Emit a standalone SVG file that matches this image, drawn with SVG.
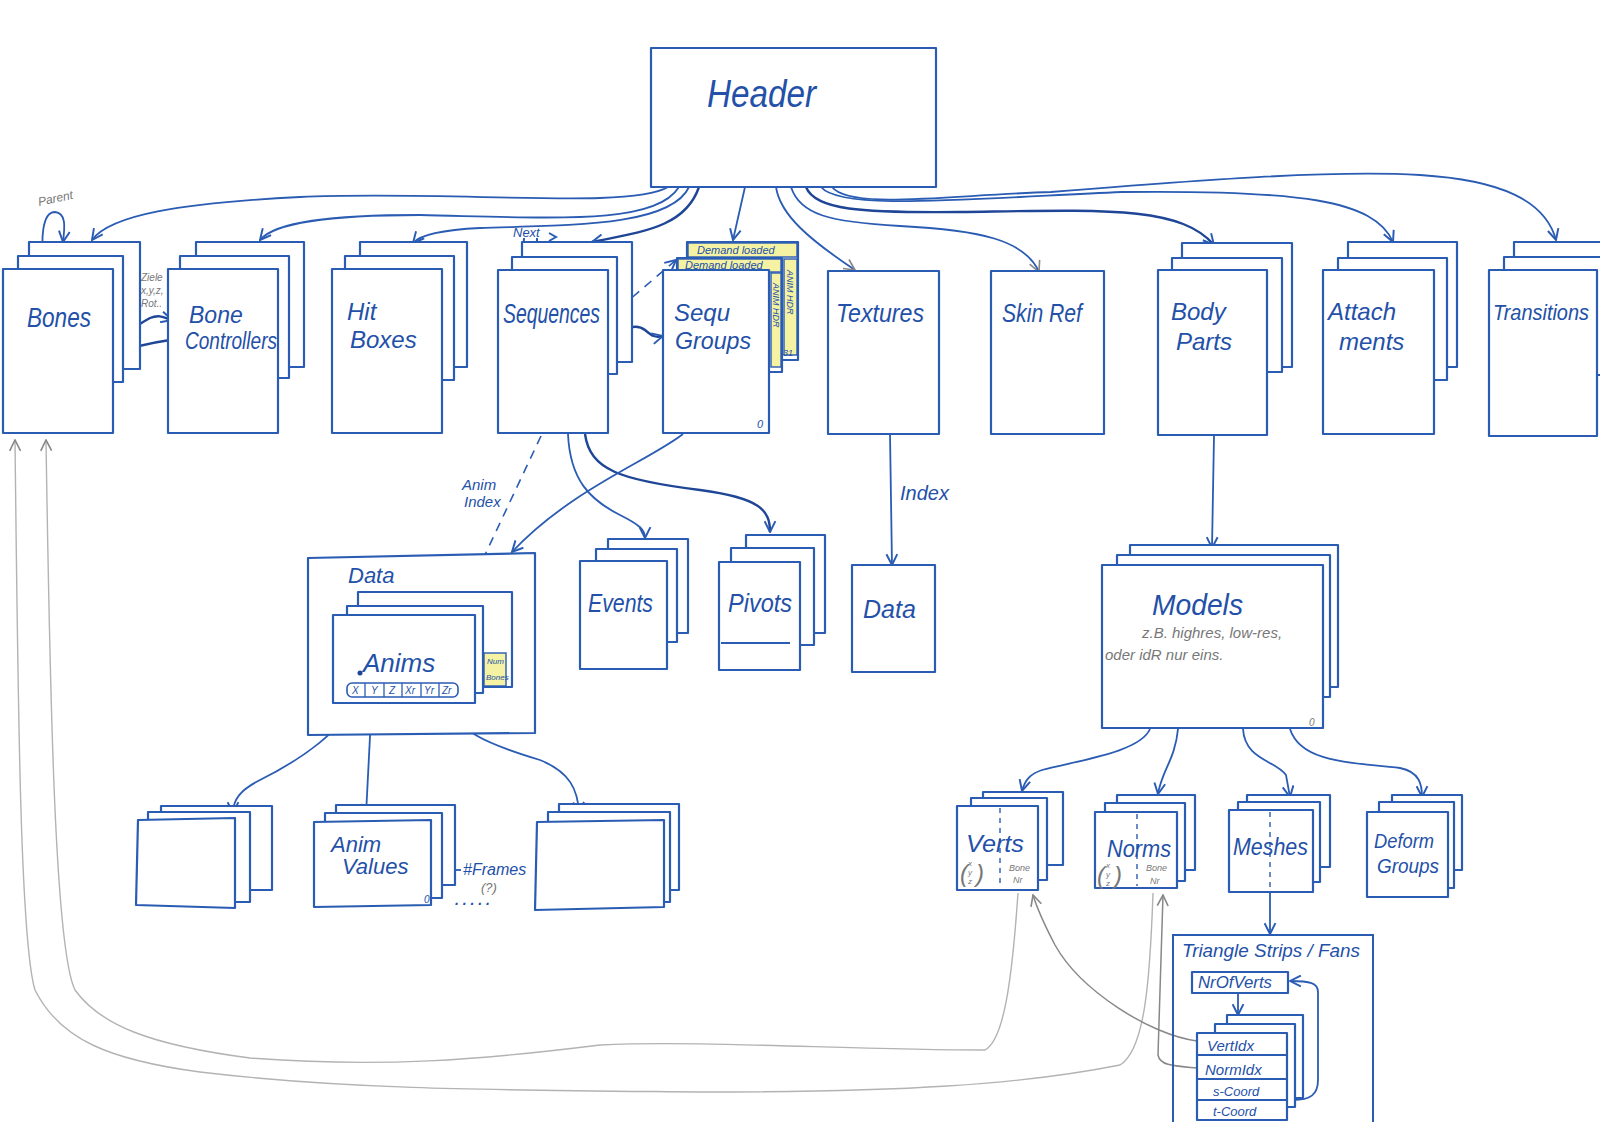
<svg xmlns="http://www.w3.org/2000/svg" width="1600" height="1122" viewBox="0 0 1600 1122">
<defs>
<style>
.b{fill:#fff;stroke:#2a5cb3;stroke-width:2.2;stroke-linejoin:round}
.n{fill:none;stroke:#2a5cb3;stroke-width:2}
.c{fill:none;stroke:#2a5cb3;stroke-width:1.8;marker-end:url(#ah)}
.cd{fill:none;stroke:#1e4596;stroke-width:2.4;marker-end:url(#ah)}
.cg{fill:none;stroke:#b3b3b3;stroke-width:1.4;marker-end:url(#ahg)}
.cgd{fill:none;stroke:#888;stroke-width:1.5;marker-end:url(#ahg)}
.dash{fill:none;stroke:#2a5cb3;stroke-width:1.6;stroke-dasharray:9 7;marker-end:url(#ah)}
.t{font-family:"Liberation Sans","DejaVu Sans",sans-serif;font-style:italic;fill:#2350a8}
.tg{font-family:"Liberation Sans","DejaVu Sans",sans-serif;font-style:italic;fill:#777}
.y{fill:#f5f2a4;stroke:#2a5cb3;stroke-width:1.4}
</style>
<marker id="ah" viewBox="0 0 12 12" refX="11" refY="6" markerWidth="13" markerHeight="13" orient="auto" markerUnits="userSpaceOnUse"><path d="M1,1 L11,6 L1,11" fill="none" stroke="#2a5cb3" stroke-width="1.8"/></marker>
<marker id="ahg" viewBox="0 0 12 12" refX="11" refY="6" markerWidth="13" markerHeight="13" orient="auto" markerUnits="userSpaceOnUse"><path d="M1,1 L11,6 L1,11" fill="none" stroke="#888" stroke-width="1.5"/></marker>
</defs>
<rect x="0" y="0" width="1600" height="1122" fill="#fff"/>

<g id="connectors">
<path class="c" d="M668,187 C630,210 450,190 300,197 C180,203 110,215 92,240"/>
<path class="c" d="M679,187 C655,225 560,218 420,215 C330,215 275,222 260,240"/>
<path class="c" d="M689,187 C670,228 560,225 480,228 C440,230 420,235 413,243"/>
<path class="cd" d="M699,187 C685,228 640,232 592,242"/>
<path class="c" d="M745,187 L733,240"/>
<path class="c" style="marker-end:url(#ahg)" d="M776,187 C780,215 810,240 855,270"/>
<path class="c" style="marker-end:url(#ahg)" d="M791,187 C800,215 830,222 900,226 C980,230 1025,240 1039,272"/>
<path class="cd" d="M806,187 C815,210 860,213 960,212 C1100,210 1180,205 1214,245"/>
<path class="c" d="M821,187 C840,210 950,200 1122,192 C1300,190 1375,200 1393,242"/>
<path class="c" d="M832,187 C850,210 950,195 1051,192 C1200,180 1330,170 1420,175 C1500,180 1545,200 1556,240"/>
<path class="c" d="M45,269 C40,240 42,212 55,212 C66,213 65,226 63,242"/>
<path class="cd" d="M113,335 C130,333 135,326 150,318 C160,314 165,318 172,320"/>
<path class="cd" d="M170,340 C150,343 130,348 116,353"/>
<path class="n" d="M523,257 L524,238"/>
<path class="n" d="M537,270 L537,238"/>
<path class="n" d="M549,233 L556,237 L549,241"/>
<path class="cd" d="M608,337 C625,330 635,322 645,330 C652,336 655,338 663,336"/>
<path class="dash" d="M608,318 L676,260"/>
<path class="dash" d="M541,436 L458,612"/>
<path class="c" d="M568,434 C570,480 590,500 620,515 C640,525 645,530 645,538"/>
<path class="cd" d="M585,434 C590,470 620,480 700,490 C760,498 770,510 770,532"/>
<path class="c" d="M683,434 C650,460 570,490 512,552"/>
<path class="c" d="M890,434 L892,565"/>
<path class="c" d="M1214,436 L1212,548"/>
<path class="c" d="M1150,729 C1140,752 1080,760 1042,770 C1030,774 1025,780 1022,791"/>
<path class="c" d="M1178,729 C1175,760 1162,770 1158,794"/>
<path class="c" d="M1243,729 C1245,760 1275,760 1286,775 L1290,797"/>
<path class="c" d="M1290,729 C1300,760 1340,762 1400,768 C1420,772 1422,785 1422,797"/>
<path class="c" d="M1270,892 L1270,934"/>
<path class="c" d="M1238,993 L1238,1015"/>
<path class="c" d="M1293,1100 C1310,1100 1318,1095 1318,1080 L1318,992 C1318,983 1310,981 1290,981"/>
<path class="c" d="M355,697 C345,730 300,760 260,780 C240,790 233,800 233,813"/>
<path class="c" d="M372,697 C370,740 368,780 366,815"/>
<path class="c" d="M448,697 C450,730 490,745 540,760 C570,772 578,790 579,813"/>
<path class="c" d="M461,870 L443,870"/>
<path class="cg" d="M1018,893 C1012,980 1004,1040 985,1050 C850,1050 700,1040 600,1045 C480,1060 380,1068 250,1058 C150,1045 100,1025 75,990 C55,950 50,700 46,440"/>
<path class="cg" d="M1153,893 C1150,980 1145,1050 1120,1065 C1020,1085 900,1092 700,1092 C500,1090 350,1090 200,1072 C110,1060 60,1040 35,990 C20,940 18,700 15,440"/>
<path class="cgd" d="M1197,1041 C1150,1035 1080,990 1055,945 C1043,922 1037,908 1033,895"/>
<path class="cgd" d="M1197,1068 C1175,1066 1160,1066 1158,1055 L1163,895"/>
</g>

<g id="header">
<rect class="b" x="651" y="48" width="285" height="139"/>
<text class="t" x="707" y="107" font-size="38" textLength="109" lengthAdjust="spacingAndGlyphs">Header</text>
</g>

<g id="bones">
<rect class="b" x="29" y="242" width="111" height="127"/>
<rect class="b" x="18" y="256" width="105" height="126"/>
<rect class="b" x="3" y="269" width="110" height="164"/>
<text class="t" x="27" y="327" font-size="28" textLength="64" lengthAdjust="spacingAndGlyphs">Bones</text>
<text class="tg" x="39" y="206" font-size="12" transform="rotate(-12 39 206)">Parent</text>
<text class="tg" x="141" y="281" font-size="10">Ziele</text>
<text class="tg" x="141" y="294" font-size="10">x,y,z,</text>
<text class="tg" x="141" y="307" font-size="10">Rot..</text>
</g>

<g id="bone-controllers">
<rect class="b" x="196" y="242" width="108" height="125"/>
<rect class="b" x="180" y="256" width="109" height="122"/>
<rect class="b" x="168" y="269" width="110" height="164"/>
<text class="t" x="189" y="323" font-size="23">Bone</text>
<text class="t" x="185" y="349" font-size="23" textLength="92" lengthAdjust="spacingAndGlyphs">Controllers</text>
</g>

<g id="hit-boxes">
<rect class="b" x="360" y="242" width="107" height="125"/>
<rect class="b" x="345" y="256" width="109" height="124"/>
<rect class="b" x="332" y="269" width="110" height="164"/>
<text class="t" x="347" y="320" font-size="24">Hit</text>
<text class="t" x="350" y="348" font-size="24">Boxes</text>
</g>

<g id="sequences">
<rect class="b" x="522" y="242" width="110" height="120"/>
<rect class="b" x="512" y="257" width="105" height="117"/>
<rect class="b" x="498" y="270" width="110" height="163"/>
<text class="t" x="503" y="323" font-size="28" textLength="97" lengthAdjust="spacingAndGlyphs">Sequences</text>
<text class="t" x="513" y="237" font-size="13">Next</text>
</g>

<g id="sequ-groups">
<rect class="b" x="687" y="242" width="111" height="118"/>
<rect class="y" x="688" y="243" width="109" height="14"/>
<rect class="b" x="677" y="258" width="105" height="114"/>
<rect class="y" x="678" y="259" width="103" height="13"/>
<rect class="y" x="784" y="259" width="13" height="96"/>
<rect class="y" x="771" y="273" width="10" height="94"/>
<rect class="b" x="663" y="270" width="106" height="163"/>
<text class="t" x="697" y="254" font-size="11" fill="#1e4596">Demand loaded</text>
<text class="t" x="685" y="269" font-size="11" fill="#1e4596">Demand loaded</text>
<text class="t" x="787" y="270" font-size="9" transform="rotate(90 787 270)">ANIM HDR</text>
<text class="t" x="773" y="283" font-size="9" transform="rotate(90 773 283)">ANIM HDR</text>
<text class="t" x="783" y="356" font-size="9">31</text>
<text class="t" x="757" y="428" font-size="11">0</text>
<text class="t" x="674" y="321" font-size="24">Sequ</text>
<text class="t" x="675" y="349" font-size="24" textLength="76" lengthAdjust="spacingAndGlyphs">Groups</text>
</g>

<g id="textures">
<rect class="b" x="828" y="271" width="111" height="163"/>
<text class="t" x="836" y="322" font-size="25" textLength="88" lengthAdjust="spacingAndGlyphs">Textures</text>
</g>

<g id="skin-ref">
<rect class="b" x="991" y="271" width="113" height="163"/>
<text class="t" x="1002" y="322" font-size="25" textLength="80" lengthAdjust="spacingAndGlyphs">Skin Ref</text>
</g>

<g id="body-parts">
<rect class="b" x="1182" y="243" width="110" height="124"/>
<rect class="b" x="1172" y="258" width="110" height="114"/>
<rect class="b" x="1158" y="270" width="109" height="165"/>
<text class="t" x="1171" y="320" font-size="24">Body</text>
<text class="t" x="1176" y="350" font-size="24">Parts</text>
</g>

<g id="attachments">
<rect class="b" x="1348" y="242" width="109" height="125"/>
<rect class="b" x="1338" y="258" width="109" height="122"/>
<rect class="b" x="1323" y="270" width="111" height="164"/>
<text class="t" x="1328" y="320" font-size="24">Attach</text>
<text class="t" x="1339" y="350" font-size="24">ments</text>
</g>

<g id="transitions">
<rect class="b" x="1514" y="242" width="100" height="125"/>
<rect class="b" x="1504" y="257" width="100" height="118"/>
<rect class="b" x="1489" y="270" width="108" height="166"/>
<text class="t" x="1493" y="320" font-size="22" textLength="96" lengthAdjust="spacingAndGlyphs">Transitions</text>
</g>

<g id="anim-data">
<path class="b" d="M308,558 L535,553 L535,733 L308,735 Z"/>
<text class="t" x="348" y="583" font-size="22">Data</text>
<text class="t" x="462" y="490" font-size="15">Anim</text>
<text class="t" x="464" y="507" font-size="15">Index</text>
</g>

<g id="anims">
<rect class="b" x="358" y="592" width="154" height="95"/>
<rect class="b" x="347" y="606" width="136" height="87"/>
<rect class="b" x="333" y="615" width="142" height="88"/>
<circle cx="360" cy="673" r="2.5" fill="#1e4596"/>
<text class="t" x="363" y="672" font-size="26">Anims</text>
<rect x="347" y="683" width="111" height="14" rx="5" fill="#fff" stroke="#2a5cb3" stroke-width="1.6"/>
<path class="n" style="stroke-width:1.3" d="M365,683V697M384,683V697M402,683V697M421,683V697M439,683V697"/>
<text class="t" font-size="10" y="694"><tspan x="352">X</tspan><tspan x="371">Y</tspan><tspan x="389">Z</tspan><tspan x="405">Xr</tspan><tspan x="424">Yr</tspan><tspan x="442">Zr</tspan></text>
<rect class="y" x="484" y="653" width="22" height="33"/>
<text class="t" x="487" y="664" font-size="8">Num</text>
<text class="t" x="486" y="680" font-size="8">Bones</text>
</g>

<g id="values-left">
<rect class="b" x="161" y="806" width="111" height="84"/>
<rect class="b" x="148" y="812" width="102" height="90"/>
<path class="b" d="M138,820 L235,818 L235,908 L136,905 Z"/>
</g>

<g id="anim-values">
<rect class="b" x="336" y="805" width="119" height="80"/>
<rect class="b" x="325" y="813" width="117" height="85"/>
<path class="b" d="M314,822 L431,820 L431,905 L314,907 Z"/>
<text class="t" x="331" y="852" font-size="22">Anim</text>
<text class="t" x="342" y="874" font-size="22">Values</text>
<text class="t" x="424" y="903" font-size="10">0</text>
<text class="t" x="463" y="875" font-size="16">#Frames</text>
<text class="tg" x="481" y="892" font-size="13">(?)</text>
<text class="t" x="455" y="905" font-size="14" font-weight="bold">. . . . .</text>
</g>

<g id="values-right">
<rect class="b" x="559" y="804" width="120" height="86"/>
<rect class="b" x="548" y="812" width="122" height="90"/>
<path class="b" d="M537,822 L664,820 L664,907 L535,910 Z"/>
</g>

<g id="events">
<rect class="b" x="608" y="539" width="80" height="94"/>
<rect class="b" x="596" y="549" width="81" height="93"/>
<rect class="b" x="580" y="561" width="87" height="108"/>
<text class="t" x="588" y="612" font-size="25" textLength="65" lengthAdjust="spacingAndGlyphs">Events</text>
</g>

<g id="pivots">
<rect class="b" x="746" y="535" width="79" height="98"/>
<rect class="b" x="731" y="548" width="83" height="97"/>
<rect class="b" x="719" y="562" width="81" height="108"/>
<path class="n" d="M721,643 L790,643"/>
<text class="t" x="728" y="612" font-size="25" textLength="64" lengthAdjust="spacingAndGlyphs">Pivots</text>
</g>

<g id="texture-data">
<rect class="b" x="852" y="565" width="83" height="107"/>
<text class="t" x="863" y="618" font-size="25">Data</text>
<text class="t" x="900" y="500" font-size="20">Index</text>
</g>

<g id="models">
<rect class="b" x="1130" y="545" width="208" height="142"/>
<rect class="b" x="1117" y="555" width="213" height="142"/>
<rect class="b" x="1102" y="565" width="221" height="163"/>
<text class="t" x="1152" y="615" font-size="30" textLength="91" lengthAdjust="spacingAndGlyphs">Models</text>
<text class="tg" x="1142" y="638" font-size="15" fill="#555">z.B. highres, low-res,</text>
<text class="tg" x="1105" y="660" font-size="15" fill="#555">oder idR nur eins.</text>
<text class="tg" x="1309" y="726" font-size="10">0</text>
</g>

<g id="verts">
<rect class="b" x="983" y="792" width="80" height="73"/>
<rect class="b" x="971" y="798" width="76" height="82"/>
<rect class="b" x="957" y="806" width="81" height="84"/>
<path class="n" style="stroke-width:1.4;stroke-dasharray:5 5" d="M1000,808 L1000,888"/>
<text class="t" x="966" y="852" font-size="24" textLength="58" lengthAdjust="spacingAndGlyphs">Verts</text>
<text class="tg" x="960" y="882" font-size="24">(</text>
<text class="tg" x="968" y="866" font-size="8">x</text>
<text class="tg" x="968" y="875" font-size="8">y</text>
<text class="tg" x="968" y="884" font-size="8">z</text>
<text class="tg" x="976" y="882" font-size="24">)</text>
<text class="tg" x="1009" y="871" font-size="9">Bone</text>
<text class="tg" x="1013" y="883" font-size="9">Nr</text>
</g>

<g id="norms">
<rect class="b" x="1117" y="795" width="78" height="75"/>
<rect class="b" x="1105" y="803" width="80" height="78"/>
<rect class="b" x="1095" y="812" width="82" height="76"/>
<path class="n" style="stroke-width:1.4;stroke-dasharray:5 5" d="M1137,814 L1137,886"/>
<text class="t" x="1107" y="857" font-size="24" textLength="64" lengthAdjust="spacingAndGlyphs">Norms</text>
<text class="tg" x="1097" y="884" font-size="24">(</text>
<text class="tg" x="1106" y="868" font-size="8">x</text>
<text class="tg" x="1106" y="877" font-size="8">y</text>
<text class="tg" x="1106" y="886" font-size="8">z</text>
<text class="tg" x="1114" y="884" font-size="24">)</text>
<text class="tg" x="1146" y="871" font-size="9">Bone</text>
<text class="tg" x="1150" y="884" font-size="9">Nr</text>
</g>

<g id="meshes">
<rect class="b" x="1247" y="795" width="83" height="72"/>
<rect class="b" x="1238" y="802" width="82" height="80"/>
<rect class="b" x="1229" y="810" width="84" height="82"/>
<path class="n" style="stroke-width:1.4;stroke-dasharray:5 5" d="M1270,812 L1270,890"/>
<text class="t" x="1233" y="855" font-size="23" textLength="75" lengthAdjust="spacingAndGlyphs">Meshes</text>
</g>

<g id="deform-groups">
<rect class="b" x="1392" y="795" width="70" height="75"/>
<rect class="b" x="1379" y="802" width="75" height="86"/>
<rect class="b" x="1367" y="812" width="81" height="85"/>
<text class="t" x="1374" y="848" font-size="20" textLength="60" lengthAdjust="spacingAndGlyphs">Deform</text>
<text class="t" x="1377" y="873" font-size="20" textLength="62" lengthAdjust="spacingAndGlyphs">Groups</text>
</g>

<g id="triangle-strips">
<path class="n" d="M1173,1122 L1173,935 L1373,935 L1373,1122"/>
<text class="t" x="1182" y="957" font-size="19" textLength="178" lengthAdjust="spacingAndGlyphs">Triangle Strips / Fans</text>
<rect class="b" x="1192" y="972" width="96" height="21"/>
<text class="t" x="1198" y="988" font-size="16" textLength="74" lengthAdjust="spacingAndGlyphs">NrOfVerts</text>
<rect class="b" x="1227" y="1015" width="76" height="83"/>
<rect class="b" x="1215" y="1024" width="80" height="83"/>
<rect class="b" x="1197" y="1033" width="90" height="87"/>
<path class="n" d="M1197,1055 H1287 M1197,1079 H1287 M1197,1100 H1287"/>
<text class="t" x="1207" y="1051" font-size="15">VertIdx</text>
<text class="t" x="1205" y="1075" font-size="15">NormIdx</text>
<text class="t" x="1213" y="1096" font-size="13">s-Coord</text>
<text class="t" x="1213" y="1116" font-size="13">t-Coord</text>
</g>
</svg>
